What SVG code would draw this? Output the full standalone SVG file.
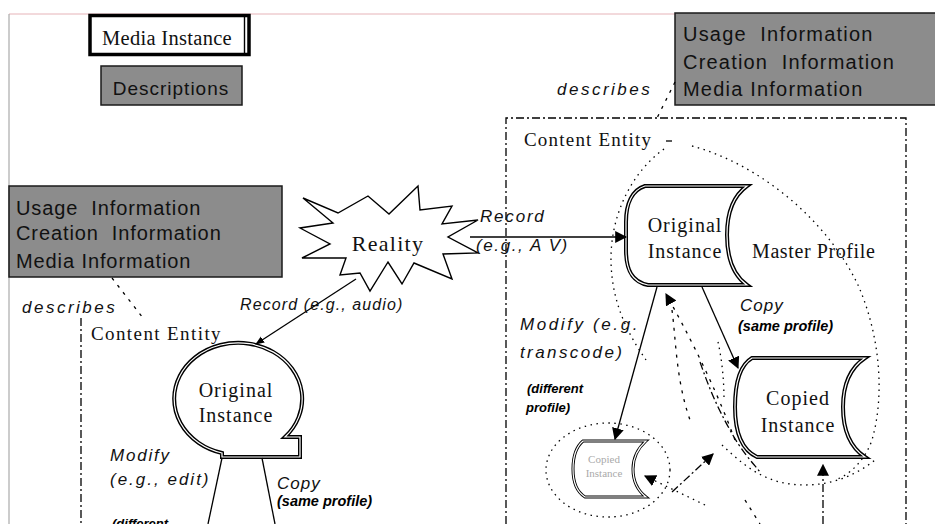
<svg xmlns="http://www.w3.org/2000/svg" width="935" height="524" viewBox="0 0 935 524">
  <style>
    .sans { font-family: "Liberation Sans", Arial, sans-serif; fill: #111; }
    .serif { font-family: "Liberation Serif", "Times New Roman", serif; fill: #111; }
    .box-text { font-family: "Liberation Sans", Arial, sans-serif; font-size: 20px; fill: #111; }
    .lbl { font-family: "Liberation Sans", Arial, sans-serif; font-style: italic; font-size: 17px; fill: #111; }
    .node { font-family: "Liberation Serif", "Times New Roman", serif; font-size: 20px; fill: #111; }
    .small { font-family: "Liberation Sans", Arial, sans-serif; font-weight: bold; font-style: italic; fill: #000; }
    .gbox { fill: #8c8c8c; stroke: #1a1a1a; stroke-width: 1.5; }
    .line { fill: none; stroke: #000; stroke-width: 1.3; }
    .dd { fill: none; stroke: #000; stroke-width: 1.3; stroke-dasharray: 8 3 2 3; }
    .dot { fill: none; stroke: #000; stroke-width: 1.3; stroke-dasharray: 1.5 4.5; }
    .dash { fill: none; stroke: #000; stroke-width: 1.3; stroke-dasharray: 3 6; }
    .outer { fill: #fff; stroke: #000; stroke-width: 4; }
    .inner { fill: none; stroke: #fff; stroke-width: 1.2; }
  </style>
  <defs>
    <marker id="arrow" viewBox="0 0 10 10" refX="9" refY="5" markerWidth="9" markerHeight="9" orient="auto" markerUnits="userSpaceOnUse">
      <path d="M0,1 L10,5 L0,9 Z" fill="#000"/>
    </marker>
    <marker id="arrowL" viewBox="0 0 10 10" refX="9" refY="5" markerWidth="12" markerHeight="12" orient="auto" markerUnits="userSpaceOnUse">
      <path d="M0,0 L10,5 L0,10 Z" fill="#000"/>
    </marker>
  </defs>

  <!-- page frame -->
  <line x1="9" y1="14" x2="935" y2="14" stroke="#e6b3b8" stroke-width="1"/>
  <line x1="9" y1="14" x2="9" y2="524" stroke="#aaa" stroke-width="1.2"/>

  <!-- legend -->
  <g id="legend-media-instance">
    <rect x="90" y="15.5" width="159" height="39" fill="#fff" stroke="#000" stroke-width="3.5"/>
    <line x1="244.5" y1="17" x2="244.5" y2="53" stroke="#000" stroke-width="1.4"/>
    <text x="167" y="45" class="serif" text-anchor="middle" style="font-size:20.5px;letter-spacing:0.3px">Media Instance</text>
  </g>
  <g id="legend-descriptions">
    <rect x="101" y="66" width="141" height="39" class="gbox"/>
    <text x="171" y="95" class="sans" text-anchor="middle" style="font-size:19px;letter-spacing:1px">Descriptions</text>
  </g>

  <!-- description boxes -->
  <g id="desc-right">
    <rect x="675" y="13" width="265" height="92" class="gbox"/>
    <text class="box-text" style="letter-spacing:1.2px" xml:space="preserve"><tspan x="683" y="41">Usage  Information</tspan><tspan x="683" y="69">Creation  Information</tspan><tspan x="683" y="96">Media Information</tspan></text>
  </g>
  <g id="desc-left">
    <rect x="9" y="186" width="273" height="91" class="gbox"/>
    <text class="box-text" style="letter-spacing:0.9px" xml:space="preserve"><tspan x="16" y="215">Usage  Information</tspan><tspan x="16" y="240">Creation  Information</tspan><tspan x="16" y="268">Media Information</tspan></text>
  </g>

  <!-- content entity frames -->
  <g id="entity-right">
    <path d="M506,524 L506,118 L906,118 L906,524" class="dd"/>
    <text x="524" y="146" class="serif" style="font-size:19px;letter-spacing:1.2px">Content Entity</text>
    <line x1="666" y1="141" x2="672" y2="141" stroke="#000" stroke-width="1.3"/>
  </g>
  <g id="entity-left">
    <line x1="81" y1="318" x2="81" y2="524" class="dd"/>
    <text x="91" y="340" class="serif" style="font-size:19px;letter-spacing:1.4px">Content Entity</text>
  </g>

  <!-- reality -->
  <g id="reality">
    <polygon points="303,198 338,213 368,196 389,214 418,186 420,210 452,206 442,224 478,220 448,237 478,253 443,254 452,279 414,263 402,284 388,262 370,291 360,273 340,275 346,258 302,258 330,244 300,228 333,223" fill="#fff" stroke="#000" stroke-width="1.4" stroke-linejoin="miter"/>
    <text x="388" y="251" class="node" text-anchor="middle" style="font-size:22px;letter-spacing:1.3px">Reality</text>
  </g>

  <!-- left original instance -->
  <g id="orig-left">
    <path d="M222,453 A64,56 0 1 1 285,437 L300,437 L300,457 L222,457 Z" class="outer"/>
    <path d="M222,453 A64,56 0 1 1 285,437 L300,437 L300,457 L222,457 Z" class="inner"/>
    <text x="236" y="397" class="node" text-anchor="middle" style="letter-spacing:1px">Original</text>
    <text x="236" y="422" class="node" text-anchor="middle" style="letter-spacing:1px">Instance</text>
  </g>

  <!-- right original instance -->
  <g id="orig-right">
    <path d="M645,186 L747,186 C733,196 727,212 727,235 C727,258 733,275 747,285 L648,285 C632,282 626,270 626,250 L626,222 C626,204 632,190 645,186 Z" class="outer"/>
    <path d="M645,186 L747,186 C733,196 727,212 727,235 C727,258 733,275 747,285 L648,285 C632,282 626,270 626,250 L626,222 C626,204 632,190 645,186 Z" class="inner"/>
    <text x="685" y="232" class="node" text-anchor="middle" style="letter-spacing:1px">Original</text>
    <text x="685" y="258" class="node" text-anchor="middle" style="letter-spacing:1px">Instance</text>
  </g>
  <text x="752" y="258" class="node" style="letter-spacing:0.6px">Master Profile</text>

  <!-- copied instance (master profile) -->
  <g id="copied-big">
    <path d="M752,358 L865,358 C850,368 843,385 843,407 C843,430 850,447 865,457 L757,457 C742,450 735,432 735,407 C735,382 740,365 752,358 Z" class="outer"/>
    <path d="M752,358 L865,358 C850,368 843,385 843,407 C843,430 850,447 865,457 L757,457 C742,450 735,432 735,407 C735,382 740,365 752,358 Z" class="inner"/>
    <text x="798" y="405" class="node" text-anchor="middle" style="letter-spacing:1px">Copied</text>
    <text x="798" y="432" class="node" text-anchor="middle" style="letter-spacing:1px">Instance</text>
  </g>

  <!-- copied instance (different profile) -->
  <g id="copied-small">
    <path d="M583,441 L646,441 C637,449 633,458 633,469 C633,481 637,490 646,497 L585,497 C577,492 573,482 573,469 C573,456 577,446 583,441 Z" fill="#fff" stroke="#000" stroke-width="3"/>
    <path d="M583,441 L646,441 C637,449 633,458 633,469 C633,481 637,490 646,497 L585,497 C577,492 573,482 573,469 C573,456 577,446 583,441 Z" class="inner" stroke-width="0.9"/>
    <text x="604" y="463" class="serif" text-anchor="middle" style="font-size:11px;fill:#aaa">Copied</text>
    <text x="604" y="477" class="serif" text-anchor="middle" style="font-size:11px;fill:#aaa">Instance</text>
  </g>

  <!-- connectors -->
  <g id="connectors">
    <!-- describes links -->
    <line x1="675" y1="82" x2="657" y2="118" class="dash"/>
    <line x1="112" y1="278" x2="143" y2="318" class="dash"/>

    <!-- record arrows -->
    <line x1="470" y1="237" x2="626" y2="237" class="line" marker-end="url(#arrowL)"/>
    <line x1="356" y1="279" x2="256" y2="344" class="line" marker-end="url(#arrow)"/>

    <!-- left instance: modify / copy -->
    <line x1="222" y1="458" x2="208" y2="524" class="line"/>
    <line x1="262" y1="458" x2="275" y2="524" class="line"/>

    <!-- right instance: copy / modify -->
    <line x1="702" y1="287" x2="738" y2="368" class="line" marker-end="url(#arrowL)"/>
    <line x1="657" y1="287" x2="615" y2="439" class="line" marker-end="url(#arrowL)"/>

    <!-- master profile region -->
    <path d="M664,149 C632,172 610,215 611,262 C612,300 625,330 646,360" class="dot"/>
    <path d="M692,146 C762,165 828,222 858,285 C880,335 885,395 872,440 C865,460 850,475 835,480" class="dot"/>

    <!-- region around copied instance -->
    <path d="M700,362 C708,385 716,405 730,430 C742,452 752,462 760,472" class="dd"/>
    <path d="M722,445 C740,462 760,480 790,484 C820,488 850,480 875,460" class="dot"/>
    <path d="M718,342 C722,360 724,380 724,400" class="dot"/>

    <!-- region around different profile -->
    <ellipse cx="608" cy="470" rx="62" ry="47" class="dot"/>

    <!-- feedback links -->
    <path d="M705,505 L645,476" class="dot" marker-end="url(#arrowL)"/>
    <path d="M672,492 L713,454" class="dd" marker-end="url(#arrowL)"/>
    <path d="M735,440 C720,400 700,355 666,294" class="dash" marker-end="url(#arrowL)"/>
    <path d="M823,524 L823,465" class="dd" marker-end="url(#arrowL)"/>
    <path d="M672,310 C676,340 676,380 690,420" class="dash"/>
    <path d="M745,500 L760,524" class="dash"/>
  </g>

  <!-- labels -->
  <g id="labels">
    <text x="557" y="95" class="lbl" style="letter-spacing:2.5px">describes</text>
    <text x="22" y="313" class="lbl" style="letter-spacing:2.5px">describes</text>
    <text x="480" y="222" class="lbl" style="letter-spacing:1.8px">Record</text>
    <text x="476" y="251" class="lbl" style="letter-spacing:1.6px" xml:space="preserve">(e.g., A V)</text>
    <text x="240" y="310" class="lbl" style="font-size:16px;letter-spacing:1.1px">Record (e.g., audio)</text>
    <text x="520" y="330" class="lbl" style="letter-spacing:2.6px">Modify (e.g.</text>
    <text x="520" y="358" class="lbl" style="letter-spacing:2.4px">transcode)</text>
    <text x="527" y="393" class="small" style="font-size:13px">(different</text>
    <text x="526" y="412" class="small" style="font-size:13px">profile)</text>
    <text x="740" y="311" class="lbl" style="letter-spacing:1px">Copy</text>
    <text x="738" y="331" class="small" style="font-size:14.5px">(same profile)</text>
    <text x="110" y="461" class="lbl" style="letter-spacing:1.8px">Modify</text>
    <text x="110" y="485" class="lbl" style="letter-spacing:2px">(e.g., edit)</text>
    <text x="277" y="489" class="lbl" style="letter-spacing:1px">Copy</text>
    <text x="277" y="506" class="small" style="font-size:14.5px">(same profile)</text>
    <text x="112" y="528" class="small" style="font-size:13px">(different</text>
  </g>
</svg>
